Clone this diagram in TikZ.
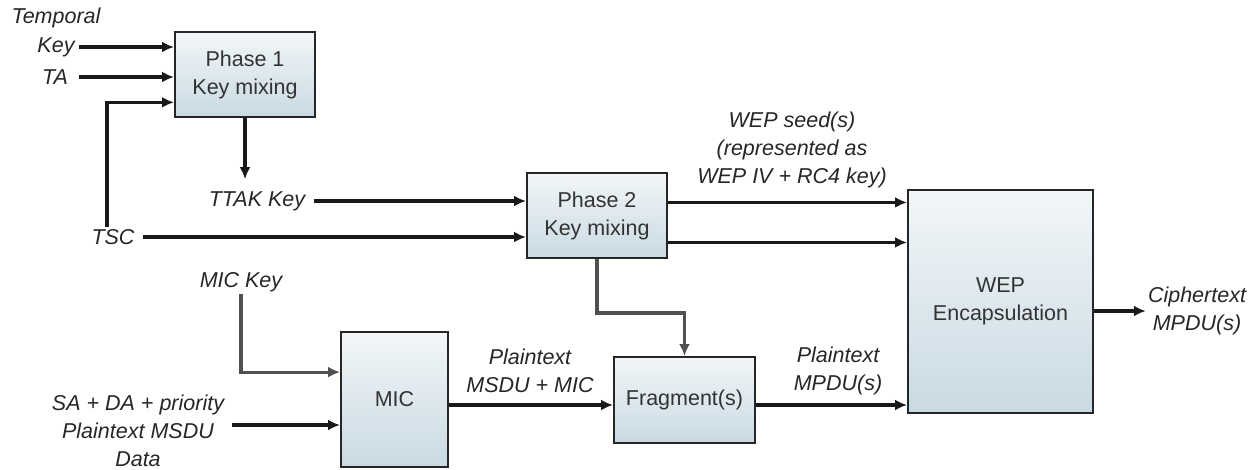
\documentclass[tikz,border=0pt]{standalone}
\usepackage{fontspec}
\setmainfont{Liberation Sans}
\usetikzlibrary{arrows.meta,calc}
\definecolor{txt}{HTML}{262626}
\definecolor{boxtop}{HTML}{F2F6F8}
\definecolor{boxbot}{HTML}{C9DAE3}
\definecolor{grayline}{HTML}{505050}
\begin{document}
\begin{tikzpicture}[x=1pt,y=-1pt,
  every node/.style={font=\fontsize{21.5}{28}\selectfont, text=txt, inner sep=2pt},
  lab/.style={font=\fontsize{21.5}{28}\selectfont\itshape, align=center},
  blk/.style={draw=black!85, line width=2pt, top color=boxtop, bottom color=boxbot,
    align=center, inner sep=0pt, text=black!80},
  arr/.style={draw=black!90, line width=3.4pt, -{Latex[length=12pt,width=11pt]}},
  garr/.style={draw=grayline, line width=3.2pt, -{Latex[length=12pt,width=11pt]}}]
\path[use as bounding box] (0,0) rectangle (1259,469);

% blocks
\node[blk, minimum width=140pt, minimum height=85pt] (p1) at (245,74.5) {Phase 1\\Key mixing};
\node[blk, minimum width=140pt, minimum height=85pt] (p2) at (597,215.5) {Phase 2\\Key mixing};
\node[blk, minimum width=185pt, minimum height=223pt] (wep) at (1000.5,301.5) {WEP\\Encapsulation};
\node[blk, minimum width=107pt, minimum height=135pt] (mic) at (394.5,399.5) {MIC};
\node[blk, minimum width=141pt, minimum height=86pt] (frag) at (684.5,400) {Fragment(s)};

% labels
\node[lab] (temporal) at (56,18) {Temporal};
\node[lab] (key) at (56,47) {Key};
\node[lab] (ta) at (55,77) {TA};
\node[lab] (ttak) at (257,201) {TTAK Key};
\node[lab] (tsc) at (113,237) {TSC};
\node[lab] (seed) at (792,150) {WEP seed(s)\\(represented as\\WEP IV + RC4 key)};
\node[lab] (mickey) at (241,282) {MIC Key};
\node[lab] (sa) at (138,431) {SA + DA + priority\\Plaintext MSDU\\Data};
\node[lab] (pmsdu) at (530,371) {Plaintext\\MSDU + MIC};
\node[lab] (pmpdu) at (838,371) {Plaintext\\MPDU(s)};
\node[lab] (cipher) at (1197,311) {Ciphertext\\MPDU(s)};

% helper coordinates on block sides
\coordinate (p2o1) at ($(p2.north east)!0.35!(p2.south east)$);
\coordinate (p2o2) at ($(p2.north east)!0.81!(p2.south east)$);
\coordinate (p1i3) at ($(p1.north west)!0.82!(p1.south west)$);
\coordinate (mici1) at ($(mic.north west)!0.3!(mic.south west)$);

% connectors
\draw[arr, shorten <=2pt] (key.east) -- (key.east -| p1.west);
\draw[arr, shorten <=2pt] (ta.east -| key.east) -- (ta.east -| p1.west);
\draw[arr] ([xshift=-6pt]tsc.north) |- (p1i3);
\draw[arr] (p1.south) -- ([yshift=10pt]ttak.north -| p1.south);
\draw[arr, shorten <=7pt] (ttak.east) -- (ttak.east -| p2.west);
\draw[arr, shorten <=6pt] (tsc.east) -- (tsc.east -| p2.west);
\draw[arr] (p2o1) -- (p2o1 -| wep.west);
\draw[arr] (p2o2) -- (p2o2 -| wep.west);
\draw[garr] (p2.south) -- ++(0,54) -| (frag.north);
\draw[garr] (mickey.south) |- (mici1);
\draw[arr, shorten <=6pt] ([yshift=6pt]sa.east) -- ([yshift=6pt]sa.east -| mic.west);
\draw[arr] ([yshift=-5pt]frag.west -| mic.east) -- ([yshift=-5pt]frag.west);
\draw[arr] ([yshift=-5pt]frag.east) -- ([yshift=-5pt]frag.east -| wep.west);
\draw[arr] (wep.east |- cipher.west) -- (cipher.west);
\end{tikzpicture}
\end{document}
